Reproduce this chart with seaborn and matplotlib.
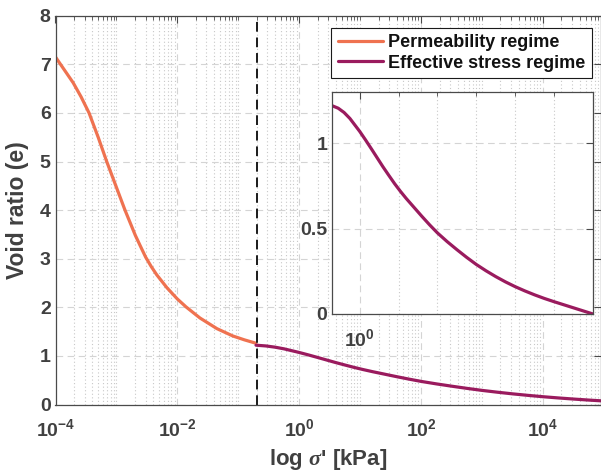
import numpy as np
import pandas as pd
import matplotlib
matplotlib.use("Agg")
import matplotlib.pyplot as plt
import matplotlib.ticker as mticker
from matplotlib.lines import Line2D
import seaborn as sns

# ---- data ----
perm_logx = [-4.0, -3.71, -3.58, -3.45, -3.30, -3.16, -3.01, -2.86, -2.69, -2.60, -2.52,
             -2.43, -2.34, -2.17, -2.0, -1.86, -1.63, -1.35, -1.09, -0.9, -0.71]
perm_e = [7.15, 6.62, 6.33, 6.00, 5.50, 5.00, 4.50, 4.00, 3.48, 3.24, 3.03,
          2.84, 2.67, 2.40, 2.17, 2.01, 1.78, 1.56, 1.41, 1.33, 1.26]

eff_logx = [-0.71, -0.55, -0.4, -0.25, -0.1, 0.0, 0.15, 0.3, 0.45, 0.6, 0.75, 0.9, 1.05, 1.2,
            1.4, 1.6, 1.8, 2.0, 2.25, 2.5, 2.75, 3.0, 3.25, 3.5, 3.75, 4.0, 4.25, 4.5,
            4.75, 5.0, 5.25, 5.5, 5.75, 6.0]
eff_e = [1.22, 1.205, 1.18, 1.145, 1.10, 1.07, 1.02, 0.968, 0.915, 0.862, 0.812, 0.763, 0.718,
         0.676, 0.624, 0.572, 0.522, 0.475, 0.424, 0.377, 0.332, 0.29, 0.253, 0.219, 0.188,
         0.16, 0.135, 0.112, 0.091, 0.072, 0.054, 0.036, 0.018, 0.0]

boundary_stress = 0.2
main_xticks = [1e-4, 1e-2, 1e0, 1e2, 1e4]
main_yticks = [0, 1, 2, 3, 4, 5, 6, 7, 8]
inset_yticks = [0, 0.5, 1]
inset_ytick_labels = ["0", "0.5", "1"]
series_names = ["Permeability regime", "Effective stress regime"]
colors = ["#EF7250", "#9A1B5E"]

sns.set_style("white")
plt.rcParams["font.family"] = ["Liberation Sans", "DejaVu Sans"]
plt.rcParams["font.weight"] = "bold"
plt.rcParams["mathtext.fontset"] = "custom"
plt.rcParams["mathtext.rm"] = "Liberation Sans:bold"
plt.rcParams["mathtext.bf"] = "Liberation Sans:bold"
plt.rcParams["mathtext.it"] = "Liberation Serif:italic"
plt.rcParams["mathtext.default"] = "rm"

txt = "#404040"
spine = "#4a4a4a"

df_perm = pd.DataFrame({"x": 10 ** np.array(perm_logx), "e": perm_e, "regime": series_names[0]})
df_eff = pd.DataFrame({"x": 10 ** np.array(eff_logx), "e": eff_e, "regime": series_names[1]})
df = pd.concat([df_perm, df_eff], ignore_index=True)

fig = plt.figure(figsize=(6.01, 4.75), dpi=100)
ax = fig.add_axes([55.5 / 601, (475 - 404.5) / 475, (601 - 55.5) / 601, (404.5 - 15.7) / 475])

sns.lineplot(data=df, x="x", y="e", hue="regime", palette=colors, linewidth=2.3,
             ax=ax, legend=False, sort=False, estimator=None)
ax.set_xscale("log")
ax.set_xlim(1e-4, 10 ** 4.95)
ax.set_ylim(0, 8)
ax.axvline(boundary_stress, color="#1a1a1a", lw=1.4, ls=(0, (5, 3)))

ax.xaxis.set_major_locator(mticker.FixedLocator(main_xticks))
minors = [k * 10.0 ** n for n in range(-4, 5) for k in range(1, 10)
          if not (k == 1 and n % 2 == 0)]
ax.xaxis.set_minor_locator(mticker.FixedLocator(minors))
ax.xaxis.set_major_formatter(mticker.FuncFormatter(lambda v, p: r"$10^{%d}$" % round(np.log10(v))))
ax.xaxis.set_minor_formatter(mticker.NullFormatter())
ax.set_yticks(main_yticks)
ax.grid(True, which="major", color="#d4d4d4", ls=(0, (6, 4)), lw=0.8)
ax.grid(True, which="minor", axis="x", color="#c8c8c8", ls=(0, (1, 2.2)), lw=0.8)
ax.tick_params(which="both", direction="in", top=True, right=True, colors=spine,
               labelcolor=txt, labelsize=14)
ax.tick_params(which="major", length=5, width=0.8)
ax.tick_params(which="minor", length=3, width=0.6)
ax.tick_params(axis="x", pad=10)
for s in ax.spines.values():
    s.set_color(spine)
    s.set_linewidth(0.9)
ax.set_xlabel(r"log $\mathit{\sigma}$' [kPa]", fontsize=16, color=txt, fontweight="bold", labelpad=5)
ax.set_ylabel("Void ratio (e)", fontsize=16.5, color=txt, fontweight="bold", labelpad=8)

handles = [Line2D([], [], color=c, lw=2.3) for c in colors]
leg = ax.legend(handles, series_names, loc="upper right",
                bbox_to_anchor=(591.7 / 601, 1 - 27.7 / 475), bbox_transform=fig.transFigure,
                fancybox=False, framealpha=1, edgecolor="#1a1a1a", fontsize=13,
                handlelength=2.5, handletextpad=0.3, borderpad=0.35, labelspacing=0.2,
                borderaxespad=0)
leg.get_frame().set_linewidth(0.8)
for t in leg.get_texts():
    t.set_color("#111111")
    t.set_fontweight("bold")

# ---- inset ----
ax2 = fig.add_axes([332 / 601, (475 - 314) / 475, 261 / 601, 222 / 475])
sns.lineplot(data=df_eff, x="x", y="e", color=colors[1], linewidth=2.3, ax=ax2,
             legend=False, sort=False, estimator=None)
ax2.set_xscale("log")
ax2.set_xlim(10 ** -0.71, 1e6)
ax2.set_ylim(0, 1.3)
ax2.xaxis.set_major_locator(mticker.FixedLocator([1.0]))
ax2.xaxis.set_major_formatter(mticker.FuncFormatter(lambda v, p: r"$10^{0}$"))
ax2.xaxis.set_minor_locator(mticker.FixedLocator([10.0 ** n for n in range(1, 7)]))
ax2.xaxis.set_minor_formatter(mticker.NullFormatter())
ax2.set_yticks(inset_yticks)
ax2.set_yticklabels(inset_ytick_labels)
ax2.grid(True, which="major", color="#d4d4d4", ls=(0, (6, 4)), lw=0.8)
ax2.grid(True, which="minor", axis="x", color="#c8c8c8", ls=(0, (1, 2.2)), lw=0.8)
ax2.tick_params(which="both", direction="in", top=True, right=True, colors=spine,
                labelcolor=txt, labelsize=14)
ax2.tick_params(which="major", length=5, width=0.8)
ax2.tick_params(which="minor", length=3, width=0.6)
ax2.tick_params(axis="x", pad=10)
ax2.set_xlabel("")
ax2.set_ylabel("")
for s in ax2.spines.values():
    s.set_color(spine)
    s.set_linewidth(0.9)

fig.savefig("out.png", dpi=100)
